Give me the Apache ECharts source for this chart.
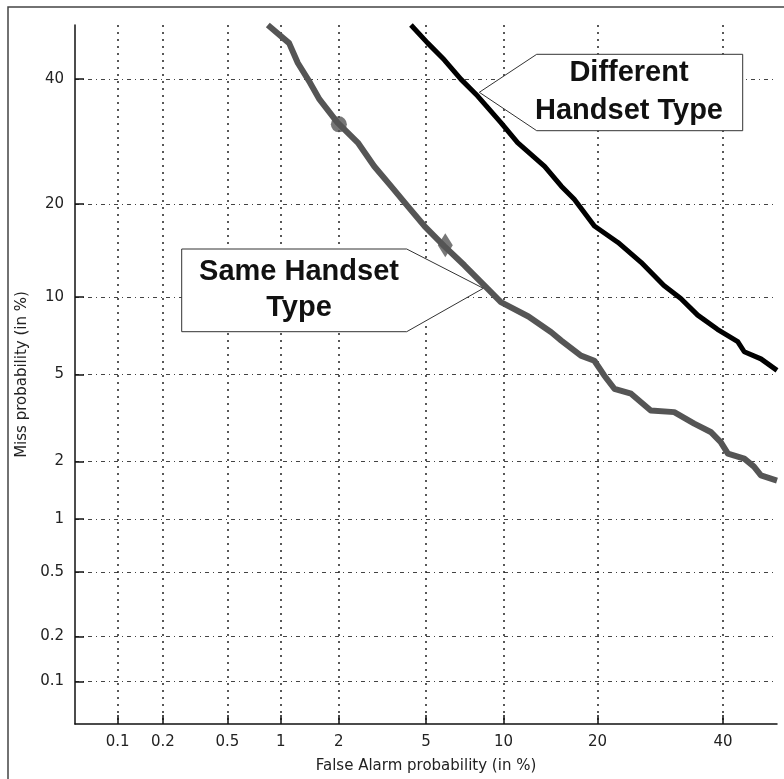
<!DOCTYPE html>
<html>
<head>
<meta charset="utf-8">
<script src="https://cdn.jsdelivr.net/npm/echarts@6/dist/echarts.min.js"></script>
<style>
html,body{margin:0;padding:0;background:#fff;}
#chart{width:784px;height:779px;}
</style>
</head>
<body>
<div id="chart"></div>
<script>
// Tick values (percent)
const tickPercents = [0.1, 0.2, 0.5, 1, 2, 5, 10, 20, 40];
const tickLabels = ['0.1', '0.2', '0.5', '1', '2', '5', '10', '20', '40'];
const axisMinPercent = 0.05;
const axisMaxPercent = 50;

// Same Handset Type curve: [false alarm %, miss %]
const sameFA = [0.85, 1.11, 1.235, 1.43, 1.6, 1.97, 2.47, 2.95, 3.52, 4.17, 4.92, 5.94, 7.14, 8.76, 9.78, 12.2, 14.5, 15.6, 17.9, 19.6, 20.9, 22.3, 24.7, 27.7, 31.5, 34.9, 37.8, 39.6, 40.9, 43.9, 45.7, 47.0, 50];
const sameMiss = [50, 46.6, 42.9, 39.3, 36.3, 32.3, 29.0, 25.3, 22.4, 19.7, 17.2, 14.9, 12.9, 10.7, 9.6, 8.5, 7.4, 6.87, 5.98, 5.7, 4.95, 4.34, 4.13, 3.48, 3.42, 3.03, 2.77, 2.48, 2.18, 2.06, 1.88, 1.70, 1.6];

// Different Handset Type curve
const diffFA = [4.31, 5.08, 5.94, 6.93, 8.03, 9.78, 11.2, 13.8, 15.6, 17.1, 19.6, 22.8, 26.2, 29.8, 32.6, 35.5, 39.0, 42.7, 43.9, 47.0, 50];
const diffMiss = [50, 46.6, 43.5, 39.9, 36.9, 32.3, 29.0, 25.3, 22.4, 20.6, 17.2, 15.3, 13.2, 11.0, 9.9, 8.6, 7.6, 6.8, 6.2, 5.8, 5.2];

// Operating point markers on the Same Handset curve
const markerFA = [2, 6];
const markerMiss = [32, 15];
const markerSymbols = ['circle', 'diamond'];

// inverse normal CDF (Acklam)
function probit(p) {
  const a = [-3.969683028665376e+01, 2.209460984245205e+02, -2.759285104469687e+02, 1.383577518672690e+02, -3.066479806614716e+01, 2.506628277459239e+00];
  const b = [-5.447609879822406e+01, 1.615858368580409e+02, -1.556989798598866e+02, 6.680131188771972e+01, -1.328068155288572e+01];
  const c = [-7.784894002430293e-03, -3.223964580411365e-01, -2.400758277161838e+00, -2.549732539343734e+00, 4.374664141464968e+00, 2.938163982698783e+00];
  const d = [7.784695709041462e-03, 3.224671290700398e-01, 2.445134137142996e+00, 3.754408661907416e+00];
  const pl = 0.02425, ph = 1 - pl;
  let q, r;
  if (p < pl) {
    q = Math.sqrt(-2 * Math.log(p));
    return (((((c[0]*q+c[1])*q+c[2])*q+c[3])*q+c[4])*q+c[5]) / ((((d[0]*q+d[1])*q+d[2])*q+d[3])*q+1);
  } else if (p <= ph) {
    q = p - 0.5; r = q * q;
    return (((((a[0]*r+a[1])*r+a[2])*r+a[3])*r+a[4])*r+a[5])*q / (((((b[0]*r+b[1])*r+b[2])*r+b[3])*r+b[4])*r+1);
  } else {
    q = Math.sqrt(-2 * Math.log(1 - p));
    return -(((((c[0]*q+c[1])*q+c[2])*q+c[3])*q+c[4])*q+c[5]) / ((((d[0]*q+d[1])*q+d[2])*q+d[3])*q+1);
  }
}
const tr = pct => probit(pct / 100);
const tickVals = tickPercents.map(tr);
function labelFor(v) {
  for (let i = 0; i < tickVals.length; i++) if (Math.abs(tickVals[i] - v) < 1e-6) return tickLabels[i];
  return '';
}
const pairs = (xs, ys) => xs.map((x, i) => [tr(x), tr(ys[i])]);

const labelStyle = { color: '#222', fontSize: 15, fontFamily: 'DejaVu Sans' };

function makeAxis(isX) {
  return {
    type: 'value',
    min: tr(axisMinPercent),
    max: tr(axisMaxPercent),
    position: isX ? 'bottom' : 'left',
    name: isX ? 'False Alarm probability (in %)' : 'Miss probability (in %)',
    nameLocation: 'middle',
    nameGap: isX ? 35 : 41,
    nameTextStyle: { color: '#222', fontSize: 15, fontFamily: 'DejaVu Sans' },
    axisLine: { show: true, onZero: false, lineStyle: { color: '#111', width: 1.5 } },
    axisTick: { show: true, inside: true, length: 9, customValues: tickVals, lineStyle: { color: '#111', width: 1.5 } },
    axisLabel: Object.assign({ customValues: tickVals, margin: 11, formatter: labelFor }, labelStyle),
    splitLine: {
      show: true,
      lineStyle: isX ? { color: '#222', width: 1.5, type: [2, 5] } : { color: '#444', width: 1, type: [4, 4, 1, 4] }
    }
  };
}

const chart = echarts.init(document.getElementById('chart'), null, { renderer: 'canvas' });
chart.setOption({
  animation: false,
  backgroundColor: '#fff',
  grid: { left: 75, right: 7, top: 25, bottom: 54, containLabel: false },
  xAxis: makeAxis(true),
  yAxis: makeAxis(false),
  series: [
    {
      type: 'line', name: 'Same Handset Type', data: pairs(sameFA, sameMiss),
      showSymbol: false, clip: true,
      lineStyle: { color: '#555', width: 6, join: 'round' }, z: 3
    },
    {
      type: 'line', name: 'Different Handset Type', data: pairs(diffFA, diffMiss),
      showSymbol: false, clip: true,
      lineStyle: { color: '#000', width: 5, join: 'round' }, z: 3
    },
    {
      type: 'scatter', data: markerFA.map((x, i) => ({ value: [tr(x), tr(markerMiss[i])], symbol: markerSymbols[i], symbolSize: i === 0 ? 16 : [15, 24] })),
      itemStyle: { color: '#555' }, z: 4
    }
  ],
  graphic: [
    { type: 'polyline', shape: { points: [[8, 779], [8, 7], [784, 7]] }, style: { stroke: '#444', lineWidth: 1.5, fill: null }, z: 10 },
    { type: 'polygon', shape: { points: [[181.7, 249], [406.7, 249], [483.3, 288.3], [406.7, 331.7], [181.7, 331.7]] }, style: { fill: '#fff', stroke: '#333', lineWidth: 1 }, z: 100 },
    { type: 'text', x: 299, y: 290, style: { text: 'Same Handset\nType', fill: '#111', font: 'bold 29px "Liberation Sans", Arial, sans-serif', align: 'center', verticalAlign: 'middle', lineHeight: 36 }, z: 101 },
    { type: 'polygon', shape: { points: [[479.3, 92.3], [536.7, 54.3], [742.7, 54.3], [742.7, 130.7], [536.7, 130.7]] }, style: { fill: '#fff', stroke: '#333', lineWidth: 1 }, z: 100 },
    { type: 'text', x: 629, y: 92, style: { text: 'Different\nHandset Type', fill: '#111', font: 'bold 29px "Liberation Sans", Arial, sans-serif', align: 'center', verticalAlign: 'middle', lineHeight: 38 }, z: 101 }
  ]
});
</script>
</body>
</html>
